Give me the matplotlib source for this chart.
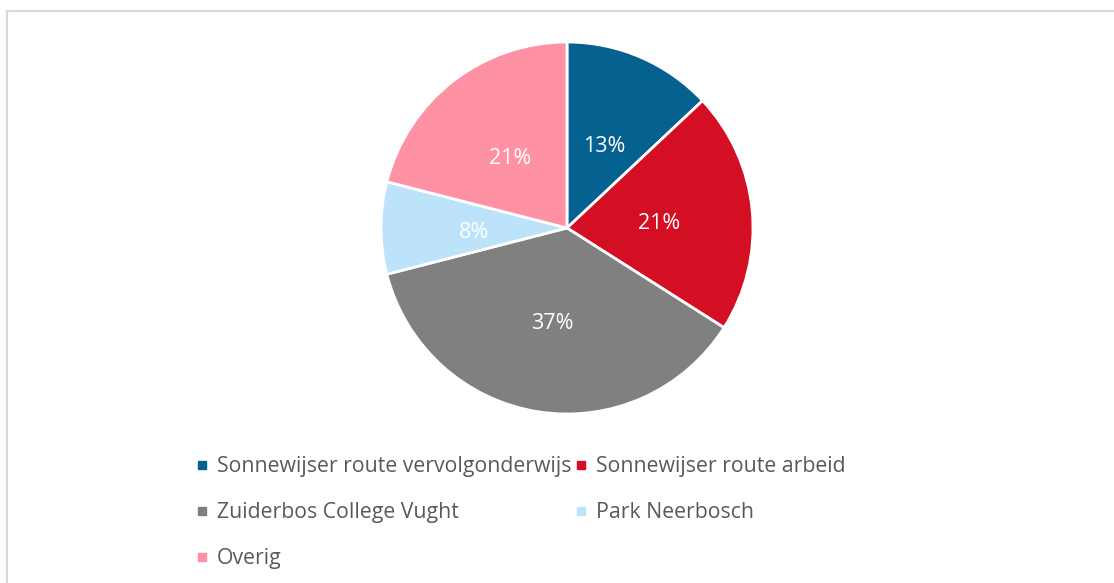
import matplotlib.pyplot as plt
import matplotlib.transforms as mtransforms
from matplotlib.lines import Line2D
from matplotlib.patches import Rectangle

# ==== data ====
labels = ["Sonnewijser route vervolgonderwijs", "Sonnewijser route arbeid",
          "Zuiderbos College Vught", "Park Neerbosch", "Overig"]
shares = [13, 21, 37, 8, 21]
colors = ["#05618F", "#D40F24", "#808080", "#BDE3FA", "#FF91A4"]

plt.rcParams['font.family'] = ['Open Sans', 'DejaVu Sans']

fig = plt.figure(figsize=(11.14, 5.83), dpi=100)

# light grey chart border (Excel style)
fig.patches.append(Rectangle((7 / 1114, -0.1), 1.2, (583 - 11) / 583 + 0.1,
                             transform=fig.transFigure, fill=False,
                             edgecolor="#D9D9D9", linewidth=1.5))

ax = fig.add_axes([(567 - 186) / 1114, (583 - 228 - 186) / 583, 372 / 1114, 372 / 583])
wedges, texts, autotexts = ax.pie(shares, colors=colors, startangle=90, counterclock=False,
                                  autopct='%d%%', pctdistance=0.5,
                                  wedgeprops=dict(edgecolor='white', linewidth=2))
# nudge the data labels a bit lower, like Excel places them
shift = mtransforms.offset_copy(ax.transData, fig=fig, x=0, y=-4, units='dots')
for t in autotexts:
    t.set_color('white')
    t.set_fontsize(15.5)
    t.set_transform(shift)
ax.set_xlim(-1, 1)
ax.set_ylim(-1, 1)

# legend filled row by row like Excel
handles = [Line2D([], [], marker='s', linestyle='none', markersize=5.2,
                  markerfacecolor=c, markeredgecolor=c) for c in colors]
order = [0, 2, 4, 1, 3]
leg = fig.legend([handles[i] for i in order], [labels[i] for i in order],
                 ncol=2, loc='upper left', bbox_to_anchor=(197 / 1114, 1 - 456 / 583),
                 frameon=False, fontsize=15.3, handlelength=0.5, handletextpad=0.45,
                 columnspacing=0.2, labelspacing=1.18, borderaxespad=0, borderpad=0)
for t in leg.get_texts():
    t.set_color('#595959')

fig.savefig('out.png', dpi=100)
